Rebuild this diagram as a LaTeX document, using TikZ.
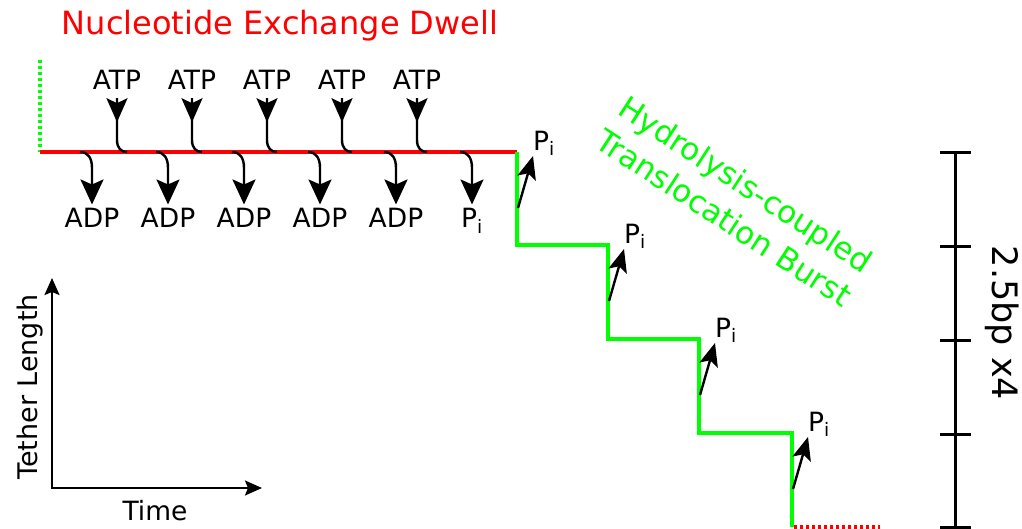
\documentclass[tikz,border=0pt]{standalone}
\usepackage{fontspec}
\setmainfont{DejaVu Sans}
\usetikzlibrary{arrows.meta,decorations.markings}

\begin{document}
\begin{tikzpicture}[x=1pt, y=-1pt,
    lbl/.style={font=\fontsize{26.5}{32}\selectfont, inner sep=0pt},
    dwell/.style={draw=red, line width=4pt},
    burst/.style={draw=green, line width=4pt},
    dots/.style={line width=3.5pt, dash pattern=on 3pt off 3pt},
    nucin/.style={line width=2.4pt, decoration={markings,
        mark=at position 24pt with {\arrow{Stealth[length=24pt,width=21pt,inset=5pt]}}},
        postaction={decorate}},
    nucout/.style={line width=2.4pt, -{Stealth[length=25pt,width=23pt,inset=5pt]}},
    piout/.style={line width=2.4pt, -{Stealth[length=23pt,width=19pt,inset=5pt]}},
    axis/.style={line width=2pt, {Stealth[length=17pt,width=15pt,inset=3pt]}-{Stealth[length=17pt,width=15pt,inset=3pt]}},
    bar/.style={line width=3pt}]
  \useasboundingbox (0,0) rectangle (1022,529);

  % dwell phase
  \node[lbl, font=\fontsize{32}{38}\selectfont, text=red, anchor=base] (title) at (280,35) {Nucleotide Exchange Dwell};
  \draw[dots, green] (40,60) -- (40,152);
  \draw[dwell] (40,152) -- (517,152);

  \foreach \x [count=\i] in {117,192,267,342,417} {
    \node[lbl, anchor=base] (atp\i) at (\x,90) {ATP};
    \draw[nucin] ([yshift=-8pt]atp\i.south) -- (\x,140) .. controls (\x,148) and (\x+4,152) .. (\x+10,152);
  }
  \foreach \x/\t [count=\i] in {92/ADP,168/ADP,244/ADP,320/ADP,396/ADP,472/P\textsubscript{i}} {
    \node[lbl, anchor=base] (adp\i) at (\x,228) {\t};
    \draw[nucout] (\x-12,152) .. controls (\x-4,152) and (\x,158) .. (\x,168) -- ([yshift=4pt]adp\i.north);
  }

  % burst phase
  \draw[burst] (517,152) |- (608,245) |- (699,339) |- (792,433) -- (792,527);
  \draw[dots, red] (794,527) -- (880,527);
  \foreach \x/\y [count=\i] in {517/152,608/245,699/339,792/433} {
    \coordinate (s\i) at (\x+1,\y+56);
    \node[lbl, anchor=south west] (pi\i) at (\x+16,\y+4) {P\textsubscript{i}};
    \draw[piout] (s\i) -- (pi\i.south west);
  }
  \node[text=green, font=\fontsize{31}{40}\selectfont, rotate=-33, align=center] (burstlbl) at (735,201) {Hydrolysis-coupled\\Translocation Burst};

  % scale bar
  \draw[bar] (955,153) -- (955,529);
  \foreach \y in {153,247,340,434,527}
    \draw[bar] (940,\y) -- (971,\y);
  \node[lbl, font=\fontsize{35}{42}\selectfont, rotate=-90, anchor=base] (scale) at (992,323) {2.5bp x4};

  % axes
  \draw[axis] (52,278) -- (52,488) -- (262,488);
  \node[lbl, font=\fontsize{27}{32}\selectfont, rotate=90, anchor=base] (tlen) at (37,387) {Tether Length};
  \node[lbl, anchor=base] (time) at (155,520) {Time};
\end{tikzpicture}
\end{document}
